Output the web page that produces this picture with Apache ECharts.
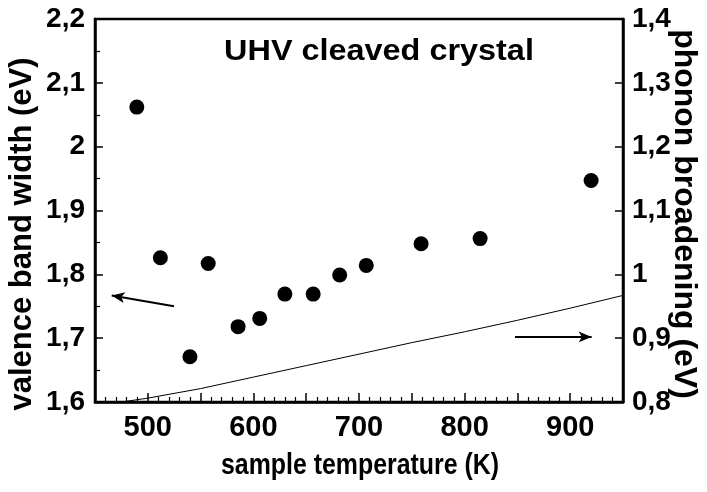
<!DOCTYPE html>
<html>
<head>
<meta charset="utf-8">
<script src="https://cdn.jsdelivr.net/npm/echarts@6/dist/echarts.min.js"></script>
<style>
  html, body { margin: 0; padding: 0; background: #fff; }
  #chart { width: 707px; height: 492px; }
</style>
</head>
<body>
<div id="chart"></div>
<script>
// Sample temperature (K) and measured valence band width (eV)
const temperatures = [489.6, 511.9, 539.9, 557.2, 585.5, 606.0, 629.8, 656.6, 681.7, 706.9, 758.8, 814.7, 919.8];
const bandWidths   = [2.062, 1.826, 1.671, 1.817, 1.718, 1.731, 1.769, 1.769, 1.799, 1.814, 1.848, 1.856, 1.947];

// Phonon broadening curve (eV) versus temperature (K)
const phononT     = [475, 500, 550, 600, 650, 700, 750, 800, 850, 900, 950];
const phononWidth = [0.800, 0.806, 0.821, 0.839, 0.857, 0.875, 0.893, 0.910, 0.928, 0.947, 0.967];

// Tick labels
const xTickLabels      = [500, 600, 700, 800, 900];
const leftTickLabels   = ['1,6', '1,7', '1,8', '1,9', '2', '2,1', '2,2'];
const rightTickLabels  = ['0,8', '0,9', '1', '1,1', '1,2', '1,3', '1,4'];

// Arrows pointing to the axis each data set belongs to
const leftArrow  = [[524.8, 1.750], [465.8, 1.767]];
const rightArrow = [[847.7, 0.902], [920.3, 0.902]];

const FONT = '"Liberation Sans", Arial, sans-serif';

const chart = echarts.init(document.getElementById('chart'), null, { renderer: 'canvas' });

function tickText(list, min, step) {
  return function (v) {
    const i = Math.round((v - min) / step);
    return list[i] !== undefined ? list[i] : '';
  };
}

const axisLineStyle = { color: '#000', width: 2.5 };

chart.setOption({
  animation: false,
  backgroundColor: '#fff',
  grid: {
    left: 95, right: 84, top: 19, bottom: 90,
    show: true, borderColor: '#000', borderWidth: 2.5, backgroundColor: 'transparent'
  },
  xAxis: {
    type: 'value', min: 450, max: 950, interval: 50,
    axisLine: { lineStyle: axisLineStyle },
    axisTick: { inside: true, length: 9, lineStyle: { color: '#000', width: 1.5 } },
    minorTick: { show: true, splitNumber: 5, length: 5, lineStyle: { color: '#000', width: 1.2 } },
    splitLine: { show: false },
    axisLabel: {
      margin: 11, color: '#000', fontFamily: FONT, fontWeight: 'bold', fontSize: 29,
      formatter: function (v) { return xTickLabels.indexOf(v) >= 0 ? String(v) : ''; },
      showMinLabel: false, showMaxLabel: false
    }
  },
  yAxis: [
    {
      type: 'value', min: 1.6, max: 2.2, interval: 0.1, position: 'left',
      axisLine: { lineStyle: axisLineStyle },
      axisTick: { inside: true, length: 8, lineStyle: { color: '#000', width: 1.5 } },
      minorTick: { show: true, splitNumber: 2, length: 5, lineStyle: { color: '#000', width: 1.2 } },
      splitLine: { show: false },
      axisLabel: {
        margin: 10, color: '#000', fontFamily: FONT, fontWeight: 'bold', fontSize: 28,
        formatter: tickText(leftTickLabels, 1.6, 0.1)
      }
    },
    {
      type: 'value', min: 0.8, max: 1.4, interval: 0.1, position: 'right',
      axisLine: { lineStyle: axisLineStyle },
      axisTick: { inside: true, length: 8, lineStyle: { color: '#000', width: 1.5 } },
      splitLine: { show: false },
      axisLabel: {
        margin: 9, color: '#000', fontFamily: FONT, fontWeight: 'bold', fontSize: 28,
        formatter: tickText(rightTickLabels, 0.8, 0.1)
      }
    }
  ],
  graphic: [
    {
      type: 'text', x: 379, y: 52, scaleX: 1.08,
      style: { text: 'UHV cleaved crystal', fill: '#000', font: 'bold 30px ' + FONT,
               align: 'center', verticalAlign: 'middle' }
    },
    {
      type: 'text', x: 360, y: 466, scaleX: 0.83,
      style: { text: 'sample temperature (K)', fill: '#000', font: 'bold 30px ' + FONT,
               align: 'center', verticalAlign: 'middle' }
    },
    {
      type: 'text', x: 22, y: 234, rotation: Math.PI / 2,
      style: { text: 'valence band width (eV)', fill: '#000', font: 'bold 31px ' + FONT,
               align: 'center', verticalAlign: 'middle' }
    },
    {
      type: 'text', x: 684, y: 214, rotation: -Math.PI / 2,
      style: { text: 'phonon broadening (eV)', fill: '#000', font: 'bold 32px ' + FONT,
               align: 'center', verticalAlign: 'middle' }
    }
  ],
  series: [
    {
      name: 'valence band width', type: 'scatter', yAxisIndex: 0,
      data: temperatures.map((t, i) => [t, bandWidths[i]]),
      symbol: 'circle', symbolSize: 15,
      itemStyle: { color: '#000', opacity: 1 },
      markLine: {
        silent: true, symbol: ['none', 'arrow'], symbolSize: [8, 13],
        lineStyle: { color: '#000', width: 2, type: 'solid' },
        label: { show: false },
        data: [[{ coord: leftArrow[0] }, { coord: leftArrow[1] }]]
      }
    },
    {
      name: 'phonon broadening', type: 'line', yAxisIndex: 1,
      data: phononT.map((t, i) => [t, phononWidth[i]]),
      showSymbol: false, symbol: 'none',
      lineStyle: { color: '#000', width: 1 },
      markLine: {
        silent: true, symbol: ['none', 'arrow'], symbolSize: [8, 13],
        lineStyle: { color: '#000', width: 2, type: 'solid' },
        label: { show: false },
        data: [[{ coord: rightArrow[0] }, { coord: rightArrow[1] }]]
      }
    }
  ]
});
</script>
</body>
</html>
